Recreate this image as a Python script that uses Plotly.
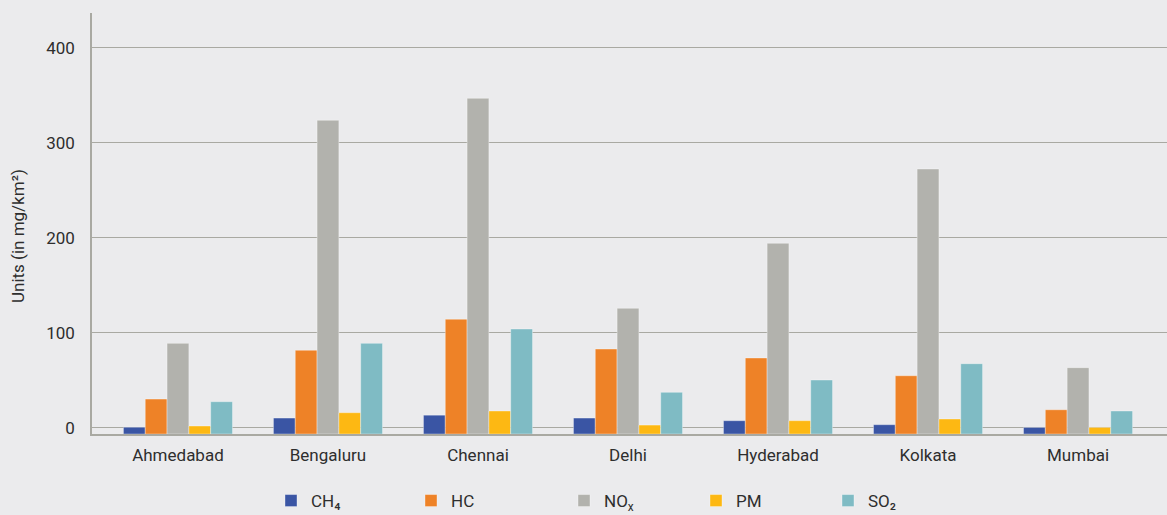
import plotly.graph_objects as go

cities = ["Ahmedabad", "Bengaluru", "Chennai", "Delhi", "Hyderabad", "Kolkata", "Mumbai"]
ch4 = [0.5, 10.2, 13.2, 10.2, 7.4, 3.2, 0.3]
hc = [30.2, 81.5, 114.2, 82.8, 73.4, 54.7, 18.9]
nox = [88.8, 323.6, 346.7, 125.7, 194.1, 272.3, 63.2]
pm = [1.8, 15.8, 17.6, 2.8, 7.4, 9.2, 0.3]
so2 = [27.4, 88.8, 103.9, 37.3, 50.2, 67.4, 17.6]

series_names = ["CH₄", "HC", "NO<sub>x</sub>", "PM", "SO₂"]
series_values = [ch4, hc, nox, pm, so2]
series_colors = ["#3A55A4", "#EE8227", "#B2B2AD", "#FDB813", "#7FBBC4"]

y_ticks = [0, 100, 200, 300, 400]
Y_MIN = -6.6   # horizontal axis crosses slightly below zero (as in reference)
Y_MAX = 436.5

W, H = 1167, 515
ML, MR, MT, MB = 92, 0, 13, 81
PW = W - ML - MR
PH = H - MT - MB

legend_px = [271, 411, 564, 696, 828]
legend_cy = 501

BG = "#EBEBED"
TXT = "#2E2E2E"
GRID = "#A9A9A2"

fig = go.Figure()
for i, (name, vals, col) in enumerate(zip(series_names, series_values, series_colors)):
    lg = "legend" if i == 0 else f"legend{i+1}"
    fig.add_trace(go.Bar(
        x=cities,
        y=[v - Y_MIN for v in vals],
        base=Y_MIN,
        name=name,
        marker=dict(color=col, line=dict(color="rgba(255,255,255,0.35)", width=1)),
        customdata=vals,
        hovertemplate="%{x}: %{customdata}<extra>" + name + "</extra>",
        legend=lg,
    ))

layout_legends = {}
for i, px in enumerate(legend_px):
    key = "legend" if i == 0 else f"legend{i+1}"
    layout_legends[key] = dict(
        x=(px - ML) / PW, xanchor="left",
        y=(MT + PH - legend_cy) / PH, yanchor="middle",
        orientation="h", bgcolor="rgba(0,0,0,0)", borderwidth=0,
        font=dict(family="Roboto", size=17, color=TXT),
    )

fig.update_layout(
    width=W, height=H,
    margin=dict(l=ML, r=MR, t=MT, b=MB, pad=0, autoexpand=False),
    paper_bgcolor=BG, plot_bgcolor=BG,
    font=dict(family="Roboto", size=17, color=TXT),
    barmode="group", bargap=0.273, bargroupgap=0,
    showlegend=True,
    **layout_legends,
)

fig.update_xaxes(
    type="category",
    range=[-0.573, 6.593],
    showgrid=False, zeroline=False,
    showline=True, linecolor=GRID, linewidth=1.5,
    ticks="", ticklabelstandoff=5,
    tickfont=dict(family="Roboto", size=17, color=TXT),
)
fig.update_yaxes(
    range=[Y_MIN, Y_MAX],
    tickvals=y_ticks, ticktext=[str(t) for t in y_ticks],
    showgrid=True, gridcolor=GRID, gridwidth=1.2,
    zeroline=False,
    showline=True, linecolor=GRID, linewidth=1.5,
    ticks="", ticklabelstandoff=12,
    tickfont=dict(family="Roboto", size=17, color=TXT),
)

fig.add_annotation(
    text="Units (in mg/km²)", textangle=-90,
    xref="paper", yref="paper",
    x=(18 - ML) / PW, y=(MT + PH - 236) / PH,
    xanchor="center", yanchor="middle", showarrow=False,
    font=dict(family="Roboto", size=17, color=TXT),
)

fig.write_html(
    "out.html",
    config={"displayModeBar": False},
    post_script="document.body.style.margin='0';document.body.style.overflow='hidden';",
)
